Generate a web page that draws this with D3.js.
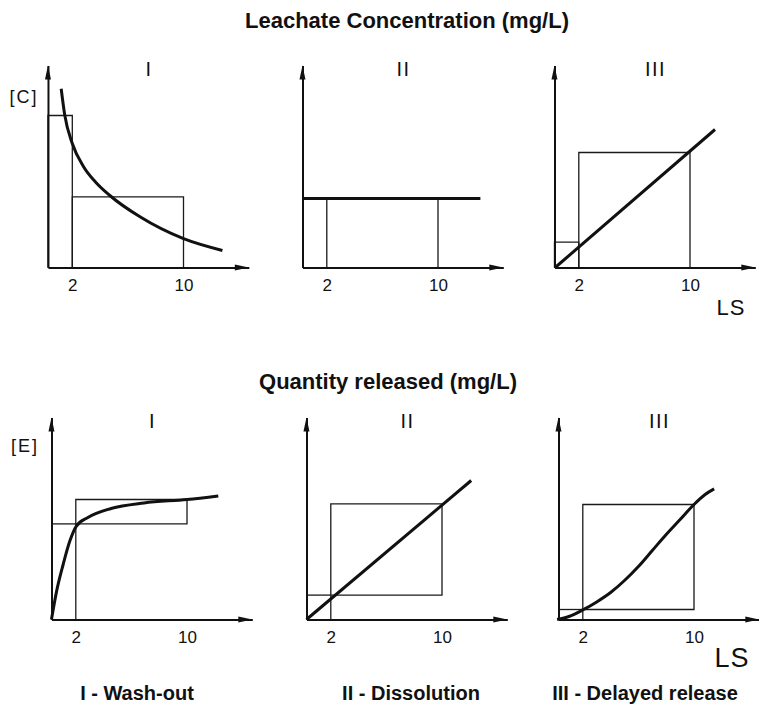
<!DOCTYPE html>
<html>
<head>
<meta charset="utf-8">
<script src="https://cdn.jsdelivr.net/npm/d3@7"></script>
<style>
  body { margin: 0; background: #fff; }
  text { font-family: "Liberation Sans", Arial, sans-serif; fill: #111; }
</style>
</head>
<body>
<svg id="chart" width="759" height="706"></svg>
<script>
const rowTitles = ["Leachate Concentration (mg/L)", "Quantity released (mg/L)"];
const panelNames = ["I", "II", "III"];
const panelCaptions = ["I - Wash-out", "II - Dissolution", "III - Delayed release"];
const lsTicks = [2, 10];
const yLabels = ["[C]", "[E]"];
const xLabel = "LS";

// row 1 : leachate concentration vs LS
const washoutConcLS = [1.2, 1.45, 2, 2.8, 3.7, 4.7, 6.9, 10, 12.8];
const washoutConc   = [89.4, 76.5, 62, 50.5, 42.5, 36, 25.2, 14.4, 8.5];
const dissolConcLS  = [0.25, 13.05];
const dissolConc    = [34.5, 34.5];
const delayedConcLS = [0.3, 11.8];
const delayedConc   = [0, 69];

// row 2 : quantity released vs LS
const washoutRelLS = [0.25, 0.62, 1.09, 1.57, 2.04, 2.87, 4.54, 6.91, 10, 12.25];
const washoutRel   = [0, 14.2, 27.5, 39.2, 46.7, 51, 55.5, 58.3, 60, 61.8];
const dissolRelLS  = [0.25, 12.1];
const dissolRel    = [0, 69.5];
const delayedRelLS = [0.15, 1, 2, 3, 4, 5, 6, 7, 8, 9, 10, 10.8, 11.45];
const delayedRel   = [0, 1.5, 4.8, 8.8, 13.5, 19.5, 26.5, 34.5, 42.5, 50, 57.5, 62.5, 65.3];

// step boxes [LS from, LS to, low, high]
const concSteps = [
  [[0.25, 2, 0, 76], [2, 10, 0, 35.3]],
  [[2, 10, 0, 34.5]],
  [[0.25, 2, 0, 12.7], [2, 10, 0, 57.5]]
];
const relSteps = [[2, 10, 47.8, 60], [2, 10, 12.2, 57.8], [2, 10, 5, 57.5]];

const svg = d3.select("#chart");
const k = 13.9;            // px per LS unit
const lsStart = 0.25, lsEnd = 14.7, yTop = 101;

const rows = [
  { base: 267.5, origins: [44.5, 299, 551],
    curves: [[washoutConcLS, washoutConc], [dissolConcLS, dissolConc], [delayedConcLS, delayedConc]] },
  { base: 619.5, origins: [48, 303, 555],
    curves: [[washoutRelLS, washoutRel], [dissolRelLS, dissolRel], [delayedRelLS, delayedRel]] }
];

function arrow(g, x, y, dir) {
  const L = 14, w = 3;
  const pts = dir === "right"
    ? [[x, y], [x - L, y - w], [x - L, y + w]]
    : [[x, y], [x - w, y + L], [x + w, y + L]];
  g.append("path").attr("d", "M" + pts.join("L") + "Z").attr("fill", "#111");
}

rows.forEach((row, r) => {
  row.origins.forEach((ox, p) => {
    const x = d3.scaleLinear().domain([lsStart, lsEnd]).range([ox + lsStart * k, ox + lsEnd * k]);
    const y = d3.scaleLinear().domain([0, yTop]).range([row.base, row.base - 2 * yTop]);
    const g = svg.append("g");

    // step boxes
    const boxLine = d3.line().x(d => x(d[0])).y(d => y(d[1]));
    const thin = sel => sel.attr("fill", "none").attr("stroke", "#1a1a1a").attr("stroke-width", 1.3);
    if (r === 0) {
      concSteps[p].forEach(([a, b, lo, hi]) => {
        g.append("path").attr("d", boxLine([[a, lo], [a, hi], [b, hi], [b, lo]])).call(thin);
      });
    } else {
      const [a, b, lo, hi] = relSteps[p];
      g.append("path").attr("d", boxLine([[a, lo], [a, hi], [b, hi], [b, lo], [a, lo]])).call(thin);
      g.append("path").attr("d", boxLine([[lsStart, lo], [a, lo]])).call(thin);
      g.append("path").attr("d", boxLine([[a, 0], [a, lo]])).call(thin);
    }

    // curve
    const [cx, cy] = row.curves[p];
    const pts = cx.map((v, i) => [v, cy[i]]);
    g.append("path")
      .attr("d", d3.line().x(d => x(d[0])).y(d => y(d[1])).curve(d3.curveMonotoneX)(pts))
      .attr("fill", "none").attr("stroke", "#111").attr("stroke-width", 3);

    // axes
    const xa = g.append("g").attr("transform", `translate(0,${row.base})`)
      .call(d3.axisBottom(x).tickValues(lsTicks).tickSize(0).tickPadding(11).tickFormat(d3.format("d")));
    xa.select(".domain").attr("stroke", "#111").attr("stroke-width", 2);
    xa.selectAll("text").attr("font-size", 17).attr("font-family", "Liberation Sans").attr("fill", "#111");
    arrow(g, x(lsEnd), row.base, "right");

    const ya = g.append("g").attr("transform", `translate(${x(lsStart)},0)`)
      .call(d3.axisLeft(y).tickValues([]).tickSize(0));
    ya.select(".domain").attr("stroke", "#111").attr("stroke-width", 2);
    arrow(g, x(lsStart), y(yTop), "up");

    // roman numeral
    g.append("text")
      .attr("x", x(lsStart) + 101).attr("y", row.base - 192)
      .attr("text-anchor", "middle").attr("font-size", 20)
      .attr("letter-spacing", 1.5)
      .text(panelNames[p]);
  });
});

// row titles
svg.append("text").attr("x", 407).attr("y", 28).attr("text-anchor", "middle")
  .attr("font-size", 22).attr("font-weight", "bold").text(rowTitles[0]);
svg.append("text").attr("x", 388).attr("y", 389).attr("text-anchor", "middle")
  .attr("font-size", 22).attr("font-weight", "bold").text(rowTitles[1]);

// y labels
svg.append("text").attr("x", 24).attr("y", 103).attr("text-anchor", "middle")
  .attr("font-size", 18).attr("letter-spacing", 2).text(yLabels[0]);
svg.append("text").attr("x", 25).attr("y", 452).attr("text-anchor", "middle")
  .attr("font-size", 18).attr("letter-spacing", 2).text(yLabels[1]);

// LS labels
svg.append("text").attr("x", 731).attr("y", 315).attr("text-anchor", "middle")
  .attr("font-size", 22).attr("letter-spacing", 1).text(xLabel);
svg.append("text").attr("x", 732).attr("y", 667).attr("text-anchor", "middle")
  .attr("font-size", 27).attr("letter-spacing", 1).text(xLabel);

// captions
const capX = [137, 411, 645];
panelCaptions.forEach((c, i) => {
  svg.append("text").attr("x", capX[i]).attr("y", 700).attr("text-anchor", "middle")
    .attr("font-size", 20).attr("font-weight", "bold").text(c);
});
</script>
</body>
</html>
